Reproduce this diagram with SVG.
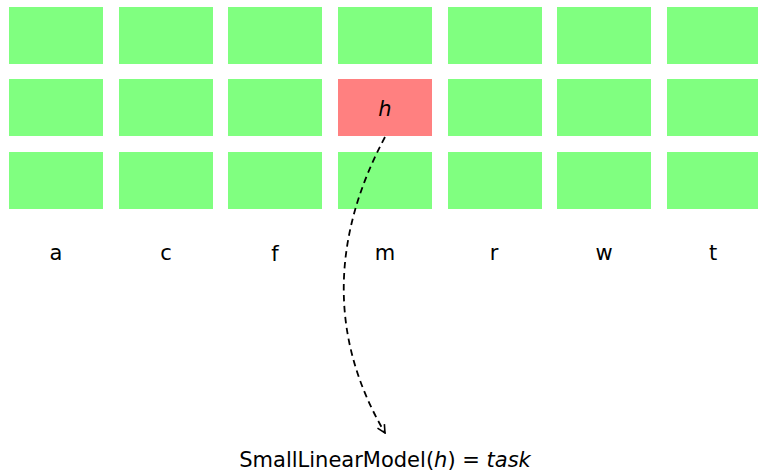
<svg xmlns="http://www.w3.org/2000/svg" width="758" height="473" viewBox="0 0 758 473">
<defs>
<style>
.g{fill:#80ff80}
.r{fill:#ff8080}
text{font-family:"DejaVu Sans",sans-serif;font-size:21px;fill:#000}
.lbl{text-anchor:middle}
.it{font-style:italic}
.edge{fill:none;stroke:#000;stroke-width:1.8;stroke-dasharray:6.5,4.5}
</style>
<marker id="ah" viewBox="0 0 10 10" refX="9" refY="5" markerWidth="10" markerHeight="10" markerUnits="userSpaceOnUse" orient="auto">
<path d="M1,1 L9,5 L1,9" fill="none" stroke="#000" stroke-width="1.6"/>
</marker>
</defs>
<rect width="758" height="473" fill="#fff"/>
<g id="row1">
<rect class="g" x="9" y="7" width="94" height="57"/>
<rect class="g" x="119" y="7" width="94" height="57"/>
<rect class="g" x="228" y="7" width="94" height="57"/>
<rect class="g" x="338" y="7" width="94" height="57"/>
<rect class="g" x="448" y="7" width="94" height="57"/>
<rect class="g" x="557" y="7" width="94" height="57"/>
<rect class="g" x="667" y="7" width="94" height="57"/>
</g>
<g id="row2">
<rect class="g" x="9" y="79" width="94" height="57"/>
<rect class="g" x="119" y="79" width="94" height="57"/>
<rect class="g" x="228" y="79" width="94" height="57"/>
<g id="node-h">
<rect class="r" x="338" y="79" width="94" height="57"/>
<text class="lbl it" x="385" y="116">h</text>
</g>
<rect class="g" x="448" y="79" width="94" height="57"/>
<rect class="g" x="557" y="79" width="94" height="57"/>
<rect class="g" x="667" y="79" width="94" height="57"/>
</g>
<g id="row3">
<rect class="g" x="9" y="152" width="94" height="57"/>
<rect class="g" x="119" y="152" width="94" height="57"/>
<rect class="g" x="228" y="152" width="94" height="57"/>
<rect class="g" x="338" y="152" width="94" height="57"/>
<rect class="g" x="448" y="152" width="94" height="57"/>
<rect class="g" x="557" y="152" width="94" height="57"/>
<rect class="g" x="667" y="152" width="94" height="57"/>
</g>
<g id="labels">
<text class="lbl" x="56" y="260">a</text>
<text class="lbl" x="166" y="260">c</text>
<text class="lbl" x="275" y="261">f</text>
<text class="lbl" x="385" y="260">m</text>
<text class="lbl" x="494" y="260">r</text>
<text class="lbl" x="604" y="260">w</text>
<text class="lbl" x="713" y="260">t</text>
</g>
<g id="connectors">
<path class="edge" d="M385,137 C330,240 330,340 385,433" marker-end="url(#ah)"/>
</g>
<g id="node-task">
<text class="lbl" x="385" y="467">SmallLinearModel(<tspan class="it">h</tspan>) = <tspan class="it">task</tspan></text>
</g>
</svg>
